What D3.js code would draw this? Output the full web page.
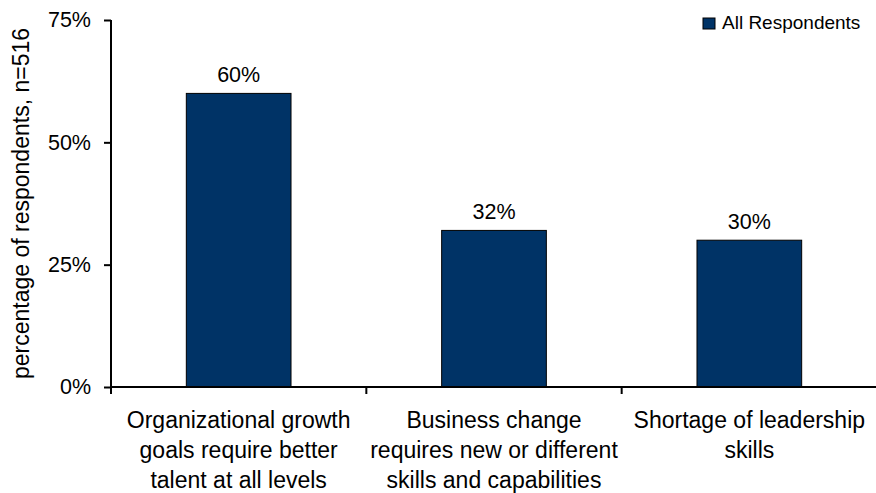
<!DOCTYPE html>
<html>
<head>
<meta charset="utf-8">
<script src="https://cdn.jsdelivr.net/npm/d3@7"></script>
<style>
  html, body { margin: 0; padding: 0; background: #fff; }
  svg { display: block; font-family: "Liberation Sans", Arial, Helvetica, sans-serif; }
</style>
</head>
<body>
<svg id="chart" width="876" height="493"></svg>
<script>
// Survey reasons, split into the lines used under the x axis
const categories = [
  "Organizational growth\ngoals require better\ntalent at all levels",
  "Business change\nrequires new or different\nskills and capabilities",
  "Shortage of leadership\nskills"
];
const values = [60, 32, 30];
const yTicks = [0, 25, 50, 75];
const seriesName = "All Respondents";
const yTitle = "percentage of respondents, n=516";

const svg = d3.select("#chart");
const plotLeft = 111, plotRight = 877, plotTop = 20, plotBottom = 387;
const barColor = "#003366";

const x = d3.scaleBand().domain(categories).range([plotLeft, plotRight]).padding(0);
const y = d3.scaleLinear().domain([0, 75]).range([plotBottom, plotTop]);
const barW = x.bandwidth() * 0.41;

// Bars
svg.append("g").selectAll("rect")
  .data(categories)
  .join("rect")
  .attr("x", (d) => x(d) + (x.bandwidth() - barW) / 2)
  .attr("y", (d, i) => y(values[i]))
  .attr("width", barW)
  .attr("height", (d, i) => y(0) - y(values[i]))
  .attr("fill", barColor)
  .attr("stroke", "#000")
  .attr("stroke-width", 1);

// Value labels above bars
svg.append("g").selectAll("text")
  .data(categories)
  .join("text")
  .attr("x", (d) => x(d) + x.bandwidth() / 2)
  .attr("y", (d, i) => y(values[i]) - 11)
  .attr("text-anchor", "middle")
  .attr("font-size", 21.5)
  .attr("fill", "#000")
  .text((d, i) => values[i] + "%");

// Y axis
const yAxis = svg.append("g")
  .attr("transform", `translate(${plotLeft},0)`)
  .call(d3.axisLeft(y).tickValues(yTicks).tickSize(7).tickPadding(13).tickFormat((d) => d + "%"));
yAxis.select(".domain").attr("d", `M0,${plotTop}V${plotBottom + 7}`).attr("stroke-width", 2);
yAxis.selectAll(".tick line").attr("stroke-width", 2);
yAxis.selectAll(".tick text").attr("font-size", 21.5).attr("font-family", "Liberation Sans, Arial, sans-serif").attr("fill", "#000");

// X axis with ticks at category boundaries
const xAxis = svg.append("g").attr("transform", `translate(0,${plotBottom})`);
xAxis.append("path")
  .attr("d", `M${plotLeft},0H${plotRight}`)
  .attr("stroke", "#000").attr("stroke-width", 2).attr("fill", "none");
xAxis.selectAll("line.sep")
  .data(categories.slice(1))
  .join("line")
  .attr("class", "sep")
  .attr("x1", (d) => x(d)).attr("x2", (d) => x(d))
  .attr("y1", 0).attr("y2", 7)
  .attr("stroke", "#000").attr("stroke-width", 2);

const catLabels = xAxis.selectAll("text.cat")
  .data(categories)
  .join("text")
  .attr("class", "cat")
  .attr("text-anchor", "middle")
  .attr("font-size", 23)
  .attr("fill", "#000");
catLabels.selectAll("tspan")
  .data((d) => d.split("\n").map((line) => ({ line, cat: d })))
  .join("tspan")
  .attr("x", (d) => x(d.cat) + x.bandwidth() / 2)
  .attr("y", (d, i) => 41 + i * 30)
  .text((d) => d.line);

// Y axis title
svg.append("text")
  .attr("transform", `translate(29,${(plotTop + plotBottom) / 2}) rotate(-90)`)
  .attr("text-anchor", "middle")
  .attr("font-size", 23)
  .attr("fill", "#000")
  .text(yTitle);

// Legend
const legend = svg.append("g").attr("transform", "translate(703,18)");
legend.append("rect")
  .attr("width", 12).attr("height", 11)
  .attr("fill", barColor).attr("stroke", "#000").attr("stroke-width", 1);
legend.append("text")
  .attr("x", 19).attr("y", 11)
  .attr("font-size", 19)
  .attr("fill", "#000")
  .text(seriesName);
</script>
</body>
</html>
